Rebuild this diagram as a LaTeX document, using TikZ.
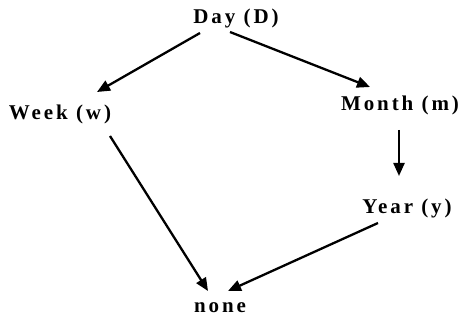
\documentclass[tikz,border=0pt]{standalone}
\usepackage{fontspec}
\setmainfont{Liberation Serif}[LetterSpace=14]
\usetikzlibrary{arrows.meta}
\tikzset{
  lbl/.style={inner sep=0pt, font=\fontsize{21}{24}\selectfont\bfseries},
  arr/.style={line width=2.3pt, -{Triangle[length=13pt,width=11pt]}}
}
\begin{document}
\begin{tikzpicture}[x=1pt,y=1pt]
\useasboundingbox (0,0) rectangle (472,-323);
\node[lbl] (day)   at (236,-18)  {Day (D)};
\node[lbl] (week)  at (60,-114)  {Week (w)};
\node[lbl] (month) at (400,-105) {Month (m)};
\node[lbl] (year)  at (407,-208) {Year (y)};
\node[lbl] (none)  at (220,-308) {none};
\draw[arr] ([shift={(-36,-15)}]day.center) -- ([shift={(37,22)}]week.center);
\draw[arr] ([shift={(-6,-14)}]day.center) -- ([shift={(-30,18)}]month.center);
\draw[arr] ([shift={(-1,-25)}]month.center) -- ([shift={(-8,32)}]year.center);
\draw[arr] ([shift={(50,-22)}]week.center) -- ([shift={(-12,17)}]none.center);
\draw[arr] ([shift={(-29,-15)}]year.center) -- ([shift={(8,17)}]none.center);
\end{tikzpicture}
\end{document}
